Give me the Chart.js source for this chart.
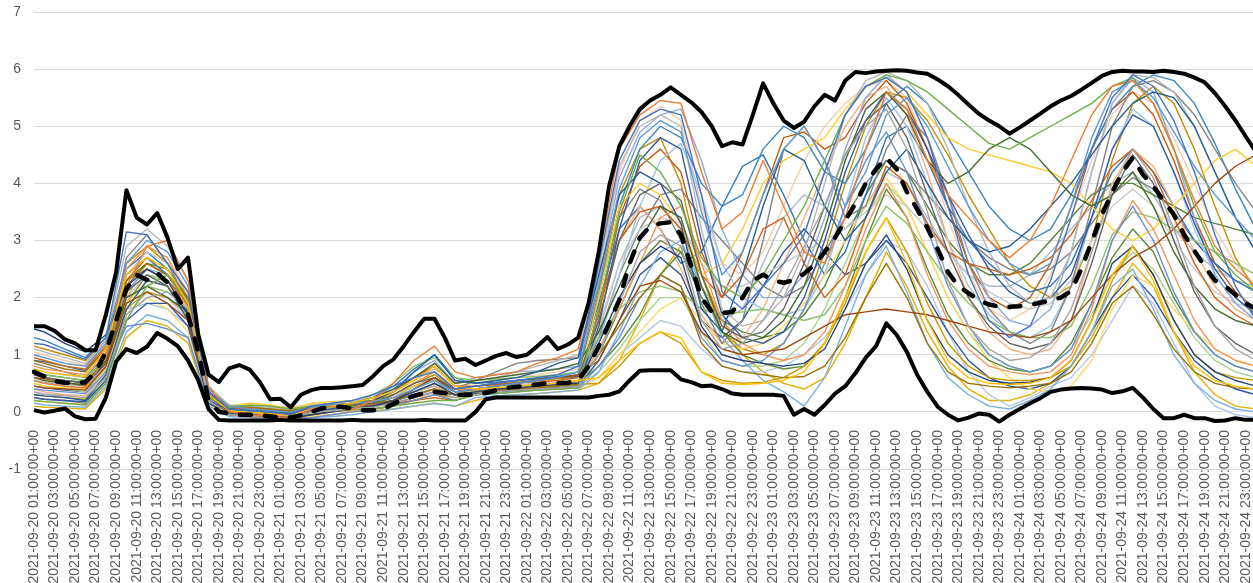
<!DOCTYPE html>
<html>
<head>
<meta charset="utf-8">
<script src="https://cdn.jsdelivr.net/npm/chart.js@4/dist/chart.umd.min.js"></script>
<style>
  html, body { margin: 0; padding: 0; background: #ffffff; overflow: hidden; }
  #wrap { width: 1253px; height: 583px; overflow: hidden; position: relative; }
  canvas { display: block; }
</style>
</head>
<body>
<div id="wrap"><canvas id="chart" width="1256" height="583"></canvas></div>
<script>
// Hourly timeline: 2021-09-20 01:00 UTC onwards, 120 steps
const startHour = Date.UTC(2021, 8, 20, 1);
const hours = [];
for (let i = 0; i < 120; i++) {
  const iso = new Date(startHour + i * 3600e3).toISOString();
  hours.push(iso.slice(0, 10) + ' ' + iso.slice(11, 19) + '+00');
}

// Member runs are stored every second hour (01:00, 02:00, 04:00, ...)
const memberTimes = [hours[0]].concat(hours.filter((h, i) => i % 2 === 1));

// Envelope and mean, hourly
const maxValues = [
  1.50,1.50,1.42,1.27,1.20,1.08,1.08,1.70,2.45,3.88,3.40,3.28,3.48,3.05,2.50,2.70,1.35,0.65,0.52,0.76,
  0.82,0.74,0.52,0.22,0.23,0.08,0.30,0.38,0.42,0.42,0.43,0.45,0.47,0.62,0.80,0.92,1.15,1.40,1.63,1.63,
  1.30,0.90,0.93,0.82,0.90,0.98,1.03,0.96,1.00,1.15,1.31,1.10,1.18,1.30,1.90,2.80,3.95,4.65,5.00,5.30,
  5.45,5.55,5.68,5.55,5.42,5.25,5.00,4.65,4.72,4.68,5.20,5.75,5.40,5.10,4.97,5.08,5.35,5.55,5.45,5.80,
  5.95,5.93,5.96,5.97,5.98,5.97,5.94,5.92,5.82,5.70,5.55,5.38,5.22,5.10,5.00,4.87,4.98,5.10,5.22,5.35,
  5.45,5.53,5.64,5.76,5.88,5.95,5.97,5.96,5.96,5.95,5.97,5.95,5.92,5.85,5.77,5.58,5.35,5.10,4.82,4.55
];
const minValues = [
  0.03,-0.01,0.02,0.06,-0.08,-0.13,-0.12,0.25,0.88,1.10,1.03,1.14,1.38,1.28,1.15,0.90,0.55,0.05,-0.14,-0.15,
  -0.15,-0.15,-0.15,-0.15,-0.14,-0.15,-0.15,-0.15,-0.15,-0.15,-0.15,-0.14,-0.15,-0.15,-0.15,-0.15,-0.15,-0.15,-0.14,-0.15,
  -0.15,-0.15,-0.15,0.00,0.22,0.25,0.25,0.25,0.25,0.25,0.25,0.25,0.25,0.25,0.25,0.28,0.30,0.36,0.55,0.72,
  0.73,0.73,0.73,0.57,0.52,0.45,0.46,0.40,0.32,0.30,0.30,0.30,0.30,0.28,-0.05,0.05,-0.05,0.12,0.32,0.45,
  0.68,0.95,1.15,1.55,1.35,1.05,0.65,0.35,0.09,-0.05,-0.15,-0.10,-0.03,-0.05,-0.17,-0.05,0.05,0.15,0.24,0.35,
  0.39,0.41,0.42,0.41,0.39,0.33,0.36,0.42,0.25,0.05,-0.11,-0.11,-0.05,-0.11,-0.11,-0.16,-0.15,-0.11,-0.14,-0.14
];
const meanValues = [
  0.70,0.62,0.54,0.51,0.50,0.52,0.70,1.05,1.60,2.15,2.40,2.31,2.43,2.26,2.00,1.70,1.05,0.20,0.00,-0.03,
  -0.05,-0.05,-0.06,-0.08,-0.10,-0.10,-0.06,0.00,0.06,0.09,0.09,0.06,0.03,0.03,0.05,0.14,0.22,0.28,0.33,0.35,
  0.33,0.30,0.30,0.30,0.33,0.38,0.42,0.44,0.45,0.48,0.50,0.50,0.51,0.56,0.80,1.15,1.55,1.96,2.60,3.05,
  3.25,3.30,3.32,3.10,2.55,2.00,1.75,1.73,1.75,2.00,2.30,2.40,2.30,2.26,2.31,2.42,2.58,2.80,3.05,3.35,
  3.65,4.00,4.25,4.45,4.25,3.85,3.55,3.22,2.85,2.45,2.20,2.08,1.95,1.88,1.84,1.84,1.85,1.87,1.91,1.95,
  2.00,2.12,2.50,2.98,3.45,3.85,4.20,4.45,4.15,3.95,3.70,3.45,3.10,2.82,2.55,2.30,2.20,2.05,1.90,1.80
];

// Individual member runs (61 values each, on memberTimes)
const m01 = [1.20,1.18,1.05,0.92,1.30,3.15,3.10,2.60,2.10,0.35, 0.05,0.02,0.00,-0.05,0.10,0.15,0.20,0.30,0.45,0.60,0.70,0.40,0.45,0.50,0.55,0.60,0.65,0.80, 2.60,4.40,5.10,5.30,5.20,3.80,2.10,1.80,2.20,2.60,3.10,4.20,5.20,5.70,5.85,5.60,4.80,3.60,2.40,1.60,1.30,1.50,2.30,3.40,4.60,5.50,5.90,5.70,5.10,4.20,3.10,2.20,1.60];
const m02 = [0.55,0.50,0.45,0.42,0.95,2.20,2.90,3.00,2.30,0.45, 0.00,-0.05,-0.08,-0.10,0.05,0.10,0.05,0.20,0.50,0.90,1.15,0.70,0.60,0.65,0.70,0.85,0.95,1.10, 2.70,4.60,5.20,5.45,5.40,4.20,3.20,3.50,4.40,3.60,2.80,2.60,3.40,4.60,5.60,5.30,4.40,3.80,3.40,3.00,2.70,3.00,3.60,4.40,5.20,5.70,5.80,5.40,4.60,3.70,2.90,2.50,2.20];
const m03 = [0.35,0.30,0.28,0.25,0.60,1.70,2.00,2.10,1.80,0.20, -0.05,-0.08,-0.10,-0.12,0.00,0.02,0.05,0.08,0.15,0.25,0.35,0.25,0.30,0.35,0.38,0.40,0.42,0.45, 1.00,1.90,2.80,3.10,2.90,1.60,1.10,1.20,1.60,2.20,2.90,3.60,4.50,5.00,5.30,4.60,3.50,2.30,1.50,1.10,0.90,0.95,1.20,1.80,2.80,3.90,4.60,4.10,3.20,2.20,1.50,1.10,0.90];
const m04 = [0.75,0.70,0.65,0.62,1.10,2.40,2.70,2.50,1.90,0.30, 0.02,0.00,-0.03,-0.06,0.05,0.10,0.15,0.25,0.35,0.55,0.80,0.45,0.40,0.42,0.45,0.48,0.50,0.55, 0.60,0.90,1.20,1.40,1.30,0.70,0.50,0.48,0.50,0.55,0.70,1.20,2.00,2.80,3.40,2.60,1.60,0.90,0.60,0.50,0.48,0.50,0.60,0.90,1.60,2.40,2.90,2.30,1.40,0.80,0.55,0.45,0.40];
const m05 = [1.00,0.95,0.85,0.80,1.20,2.60,3.00,2.80,2.20,0.40, 0.10,0.05,0.02,0.00,0.08,0.12,0.15,0.18,0.25,0.40,0.55,0.35,0.40,0.45,0.50,0.55,0.60,0.70, 2.20,3.90,4.80,5.10,4.90,3.50,2.40,2.80,3.80,4.60,5.00,4.40,3.60,4.20,5.20,5.50,5.00,4.30,3.60,3.00,2.60,2.40,2.60,3.60,4.80,5.60,5.80,5.50,4.90,4.30,3.80,3.40,3.00];
const m06 = [0.20,0.18,0.15,0.12,0.50,1.60,2.20,2.40,1.90,0.25, 0.08,0.12,0.10,0.05,0.10,0.12,0.10,0.05,0.10,0.15,0.20,0.20,0.30,0.32,0.35,0.38,0.40,0.42, 1.80,3.50,4.50,4.20,3.60,2.70,2.20,2.00,2.40,3.00,3.60,4.40,5.20,5.70,5.90,5.80,5.60,5.30,5.00,4.70,4.60,4.80,5.00,5.20,5.40,5.70,5.85,5.40,4.60,3.60,2.80,2.40,2.10];
const m07 = [1.45,1.40,1.20,1.05,1.35,2.20,2.50,2.30,1.70,0.30, 0.00,-0.05,-0.08,-0.10,-0.05,0.00,0.05,0.10,0.20,0.35,0.50,0.30,0.35,0.40,0.42,0.45,0.48,0.50, 1.20,2.00,2.60,2.90,2.70,1.50,1.00,0.90,0.85,0.80,0.85,1.10,1.80,2.60,3.10,2.50,1.60,1.00,0.70,0.55,0.50,0.52,0.60,0.90,1.60,2.60,2.90,2.40,1.60,1.00,0.70,0.55,0.45];
const m08 = [0.45,0.42,0.40,0.38,0.80,1.90,2.10,1.90,1.60,0.20, -0.05,-0.08,-0.10,-0.12,-0.05,0.00,0.05,0.10,0.20,0.40,0.60,0.35,0.40,0.45,0.50,0.55,0.60,0.65, 0.90,1.60,2.20,2.30,2.10,1.40,1.10,1.00,1.05,1.10,1.30,1.50,1.70,1.75,1.80,1.75,1.70,1.60,1.50,1.40,1.35,1.30,1.40,1.60,2.00,2.40,2.70,2.90,3.20,3.60,4.00,4.30,4.50];
const m09 = [0.65,0.60,0.55,0.50,0.90,2.10,2.40,2.20,1.70,0.25, 0.05,0.02,0.00,-0.02,0.05,0.10,0.12,0.15,0.30,0.50,0.60,0.40,0.45,0.50,0.55,0.58,0.60,0.62, 1.60,3.00,3.80,4.00,3.70,2.40,1.50,1.30,1.40,1.80,2.60,3.60,4.50,5.10,5.40,4.80,3.80,2.80,2.00,1.50,1.20,1.10,1.20,1.60,2.60,3.80,4.50,4.00,3.00,2.10,1.50,1.20,1.00];
const m10 = [0.90,0.85,0.75,0.70,1.10,2.30,2.60,2.40,2.00,0.35, 0.10,0.08,0.05,0.02,0.08,0.10,0.12,0.15,0.20,0.30,0.40,0.30,0.35,0.38,0.40,0.42,0.45,0.48, 1.00,1.50,2.00,2.40,2.20,1.20,0.80,0.70,0.65,0.60,0.62,0.80,1.30,2.00,2.60,2.00,1.20,0.70,0.50,0.45,0.42,0.45,0.50,0.70,1.20,1.90,2.20,1.70,1.10,0.70,0.50,0.42,0.40];
const m11 = [0.30,0.28,0.25,0.20,0.65,1.80,2.30,2.20,1.60,0.15, -0.02,-0.05,-0.08,-0.10,0.00,0.05,0.10,0.20,0.35,0.70,1.00,0.55,0.50,0.55,0.60,0.70,0.85,0.95, 2.40,3.80,4.20,4.00,3.30,1.80,1.40,2.40,3.60,4.60,4.40,3.60,3.00,3.40,4.20,4.60,4.00,3.40,3.00,2.80,2.90,3.20,3.60,4.00,4.50,5.00,5.40,5.60,5.50,5.00,4.20,3.40,2.80];
const m12 = [0.60,0.55,0.50,0.48,0.85,2.00,2.20,2.00,1.75,0.30, 0.05,0.02,0.00,-0.03,0.05,0.10,0.15,0.25,0.40,0.60,0.85,0.50,0.55,0.60,0.65,0.70,0.75,0.85, 1.40,2.20,3.00,3.60,3.40,2.20,1.40,1.20,1.30,1.60,2.20,3.20,4.40,5.30,5.60,5.20,4.40,4.00,4.20,4.60,4.80,4.60,4.20,3.80,3.60,3.80,4.20,3.60,2.80,2.20,1.80,1.60,1.50];
const m13 = [0.40,0.38,0.35,0.32,0.70,1.50,1.55,1.45,1.30,0.15, -0.05,-0.08,-0.10,-0.12,-0.10,-0.05,0.00,0.05,0.10,0.20,0.30,0.20,0.30,0.32,0.35,0.38,0.40,0.42, 0.80,1.30,2.00,2.40,2.20,1.30,0.90,0.80,0.90,1.20,1.80,2.60,3.60,4.40,4.90,4.20,3.20,2.20,1.50,1.00,0.80,0.70,0.80,1.10,1.90,3.00,3.60,3.00,2.10,1.40,1.00,0.80,0.70];
const m14 = [0.80,0.75,0.70,0.65,1.05,2.50,2.90,2.70,2.00,0.30, 0.00,-0.03,-0.05,-0.08,0.00,0.05,0.10,0.15,0.30,0.50,0.70,0.40,0.38,0.40,0.42,0.45,0.48,0.50, 1.10,1.80,2.60,3.40,3.60,2.60,1.60,1.20,1.00,0.90,1.00,1.40,2.20,3.20,4.00,3.40,2.40,1.60,1.10,0.80,0.70,0.65,0.70,1.00,1.80,3.00,3.70,3.20,2.40,1.60,1.10,0.90,0.80];
const m15 = [1.10,1.05,0.95,0.85,1.25,2.90,3.20,2.90,2.30,0.45, 0.12,0.10,0.08,0.05,0.10,0.15,0.20,0.25,0.35,0.55,0.75,0.50,0.55,0.60,0.70,0.80,0.90,1.00, 2.50,4.30,5.00,5.20,5.00,3.20,1.80,1.50,1.60,2.00,2.80,4.00,5.20,5.80,5.95,5.80,5.40,4.60,3.60,2.80,2.20,1.90,2.00,2.80,4.20,5.40,5.90,5.85,5.60,5.00,4.20,3.40,2.80];
const m16 = [0.50,0.45,0.42,0.40,0.75,1.90,2.30,2.20,1.80,0.25, 0.10,0.15,0.12,0.05,0.15,0.18,0.20,0.25,0.30,0.45,0.55,0.35,0.40,0.42,0.45,0.48,0.50,0.55, 2.00,3.60,4.00,3.80,3.30,2.40,2.60,3.20,4.00,4.40,4.60,4.80,5.30,5.70,5.85,5.60,5.20,4.80,4.60,4.50,4.40,4.30,4.20,4.00,3.60,3.20,3.00,3.20,3.60,4.00,4.40,4.60,4.30];
const m17 = [0.15,0.12,0.10,0.08,0.45,1.40,1.70,1.60,1.30,0.10, -0.08,-0.10,-0.12,-0.12,-0.10,-0.08,-0.05,0.00,0.05,0.10,0.15,0.10,0.25,0.28,0.30,0.32,0.35,0.38, 0.70,1.40,2.20,2.80,3.00,2.20,1.30,0.90,0.55,0.35,0.10,0.60,1.50,2.40,2.90,2.10,1.20,0.60,0.30,0.10,0.05,0.20,0.40,0.80,1.40,2.20,2.50,1.80,1.00,0.50,0.20,0.05,0.00];
const m18 = [0.70,0.65,0.60,0.55,0.95,2.00,2.20,2.10,1.80,0.30, 0.00,-0.02,-0.05,-0.08,0.00,0.08,0.15,0.30,0.50,0.80,0.95,0.60,0.55,0.58,0.60,0.62,0.65,0.70, 1.30,1.80,2.10,2.20,2.10,1.80,1.70,1.75,1.80,1.70,1.60,1.70,2.20,3.00,3.60,3.30,2.80,2.30,1.90,1.60,1.40,1.30,1.30,1.50,2.20,3.10,3.50,3.40,3.20,3.00,2.80,2.60,2.40];
const m19 = [0.25,0.22,0.20,0.18,0.55,1.60,1.90,1.90,1.50,0.20, 0.02,0.00,-0.02,-0.05,0.02,0.05,0.08,0.10,0.15,0.25,0.35,0.30,0.32,0.35,0.38,0.40,0.42,0.45, 1.50,3.20,4.40,4.80,4.60,3.00,1.70,1.30,1.20,1.40,2.00,3.00,4.20,5.10,5.60,5.30,4.60,3.80,3.10,2.50,2.10,1.90,2.00,2.40,3.40,4.60,5.20,5.00,4.20,3.30,2.50,2.00,1.70];
const m20 = [0.95,0.90,0.80,0.75,1.15,2.30,2.50,2.30,1.90,0.35, 0.08,0.05,0.02,0.00,0.05,0.08,0.10,0.12,0.15,0.20,0.25,0.20,0.30,0.35,0.38,0.40,0.42,0.45, 1.80,3.00,3.50,3.60,3.20,2.40,2.00,2.40,3.20,3.40,2.60,2.00,2.40,3.40,4.30,4.00,3.30,2.80,2.60,2.50,2.40,2.50,2.70,3.10,3.70,4.30,4.60,4.20,3.40,2.60,2.00,1.70,1.50];
const m21 = [0.85,0.80,0.70,0.60,1.00,2.70,3.10,2.60,1.90,0.30, 0.05,0.03,0.00,-0.03,0.02,0.05,0.08,0.10,0.20,0.40,0.60,0.40,0.55,0.70,0.85,0.90,0.92,0.95, 2.20,3.40,3.90,3.70,3.00,1.90,1.20,1.60,3.00,4.60,5.00,4.40,3.40,3.60,4.60,5.20,4.80,3.80,2.60,1.80,1.40,1.20,1.40,2.20,3.60,5.00,5.70,5.80,5.60,5.20,4.60,4.00,3.50];
const m22 = [0.30,0.28,0.25,0.22,0.60,1.80,2.10,2.00,1.70,0.20, -0.03,-0.05,-0.08,-0.10,-0.05,0.00,0.03,0.05,0.10,0.20,0.30,0.25,0.35,0.38,0.40,0.42,0.45,0.48, 0.50,0.80,1.20,1.40,1.20,0.70,0.55,0.50,0.52,0.60,0.80,1.20,1.90,2.80,3.40,2.80,1.90,1.20,0.80,0.60,0.55,0.55,0.60,0.80,1.40,2.30,2.90,2.40,1.60,1.00,0.70,0.60,0.55];
const m23 = [1.30,1.25,1.10,0.95,1.30,2.40,2.70,2.40,1.90,0.35, 0.08,0.05,0.03,0.00,0.05,0.08,0.10,0.12,0.20,0.35,0.50,0.35,0.40,0.45,0.50,0.55,0.60,0.65, 2.00,3.60,4.60,5.00,4.80,4.00,3.60,3.80,4.60,5.00,4.80,4.20,4.00,4.60,5.40,5.70,5.40,4.80,4.20,3.60,3.20,3.00,3.20,3.80,4.60,5.30,5.70,5.90,5.80,5.40,4.70,3.90,3.20];
const m24 = [0.65,0.60,0.55,0.52,0.90,2.20,2.60,2.50,2.00,0.30, 0.05,0.02,0.00,-0.02,0.05,0.10,0.15,0.20,0.30,0.45,0.55,0.35,0.38,0.40,0.42,0.45,0.48,0.50, 0.80,1.20,1.70,2.40,2.80,2.20,1.40,1.00,0.85,0.75,0.80,1.20,2.00,3.00,3.90,3.40,2.50,1.70,1.20,0.90,0.75,0.70,0.80,1.20,1.90,2.70,3.20,2.80,2.00,1.40,1.00,0.80,0.70];
const m25 = [0.55,0.50,0.45,0.40,0.85,2.10,2.50,2.40,1.90,0.25, 0.00,-0.02,-0.05,-0.08,0.00,0.05,0.10,0.20,0.40,0.70,0.90,0.50,0.60,0.65,0.70,0.72,0.75,0.80, 2.30,4.10,4.90,5.20,5.30,4.40,3.20,2.40,2.00,2.00,2.40,3.40,4.60,5.50,5.90,5.60,4.80,3.80,2.80,2.00,1.60,1.50,1.80,2.80,4.20,5.40,5.85,5.60,4.60,3.40,2.40,1.90,1.60];
const m26 = [0.40,0.35,0.30,0.28,0.70,2.00,2.60,2.40,1.80,0.25, 0.05,0.08,0.10,0.08,0.12,0.15,0.18,0.20,0.25,0.35,0.45,0.30,0.35,0.38,0.40,0.42,0.45,0.48, 1.60,3.00,3.60,3.20,2.50,1.70,1.20,1.30,1.80,2.60,3.40,4.20,5.00,5.50,5.70,5.20,4.20,3.00,2.00,1.40,1.10,1.00,1.10,1.60,2.80,4.00,4.60,4.30,3.60,2.80,2.20,1.80,1.60];
const m27 = [1.00,0.95,0.85,0.80,1.15,2.40,2.80,2.60,2.00,0.30, 0.02,0.00,-0.02,-0.05,0.00,0.05,0.08,0.10,0.20,0.30,0.40,0.30,0.40,0.45,0.48,0.50,0.52,0.55, 1.50,2.60,3.20,3.40,3.30,2.60,2.20,2.20,2.40,2.60,2.80,3.00,3.20,3.50,3.80,3.60,3.20,2.80,2.40,2.10,1.90,1.80,1.90,2.30,3.00,3.60,3.90,3.60,3.00,2.50,2.10,1.90,1.80];
const m28 = [0.20,0.18,0.15,0.12,0.50,1.70,2.00,1.80,1.40,0.15, -0.05,-0.08,-0.10,-0.12,-0.08,-0.05,0.00,0.05,0.10,0.20,0.35,0.25,0.30,0.32,0.35,0.38,0.40,0.42, 0.60,1.00,1.40,1.80,2.00,1.60,1.20,1.10,1.20,1.50,1.90,2.40,3.00,3.60,4.10,3.60,2.80,2.00,1.40,0.90,0.60,0.40,0.35,0.45,0.90,1.80,2.40,2.20,1.80,1.40,1.10,0.90,0.80];
const m29 = [0.75,0.70,0.65,0.60,1.00,1.80,1.90,1.80,1.50,0.25, 0.03,0.00,-0.03,-0.05,0.00,0.05,0.08,0.10,0.20,0.40,0.55,0.35,0.40,0.42,0.45,0.48,0.50,0.55, 1.20,2.40,3.60,4.40,4.70,3.80,2.60,2.00,1.80,1.70,1.80,2.40,3.60,4.80,5.50,5.00,4.00,3.00,2.20,1.70,1.40,1.30,1.50,2.20,3.40,4.60,5.30,5.00,4.20,3.20,2.40,1.90,1.60];
const m30 = [0.50,0.45,0.40,0.35,0.75,2.00,2.40,2.30,1.80,0.25, 0.00,-0.03,-0.05,-0.08,-0.02,0.03,0.06,0.10,0.20,0.35,0.50,0.30,0.32,0.35,0.38,0.40,0.42,0.45, 0.70,1.10,1.60,2.00,2.00,1.40,0.90,0.80,0.80,0.90,1.20,1.80,2.60,3.40,4.00,3.60,2.80,2.00,1.40,1.00,0.80,0.70,0.80,1.10,1.70,2.40,2.80,2.50,1.90,1.30,0.90,0.70,0.60];
const m31 = [0.90,0.88,0.80,0.72,1.10,2.50,2.80,2.50,1.95,0.30, 0.05,0.03,0.00,-0.02,0.05,0.10,0.15,0.25,0.45,0.75,1.00,0.60,0.50,0.52,0.55,0.58,0.62,0.70, 1.90,3.20,3.60,3.20,2.60,2.80,3.60,4.30,4.50,3.80,3.00,2.40,2.80,3.80,4.80,5.00,4.40,3.60,3.00,2.60,2.30,2.10,2.20,2.60,3.40,4.20,4.60,4.20,3.60,3.00,2.60,2.30,2.10];
const m32 = [0.60,0.58,0.52,0.45,0.90,2.30,2.70,2.40,1.85,0.25, 0.00,-0.02,-0.05,-0.08,0.00,0.05,0.10,0.20,0.35,0.60,0.80,0.45,0.45,0.48,0.50,0.52,0.55,0.60, 1.70,3.40,4.30,4.60,4.20,2.80,2.00,2.80,3.80,4.80,4.90,4.60,4.80,5.40,5.80,5.40,4.60,3.60,2.60,2.00,1.80,2.00,2.60,3.60,4.60,5.30,5.60,5.20,4.40,3.40,2.60,2.10,1.80];
const m33 = [0.25,0.22,0.20,0.15,0.55,1.90,2.40,2.30,1.70,0.20, -0.02,-0.05,-0.08,-0.10,-0.02,0.02,0.05,0.10,0.20,0.40,0.60,0.35,0.38,0.40,0.42,0.45,0.48,0.50, 1.30,2.40,3.20,3.80,3.90,3.40,3.00,2.60,2.20,2.00,2.20,2.80,3.40,4.00,4.40,4.20,3.80,3.40,3.00,2.70,2.50,2.40,2.50,2.80,3.30,3.80,4.10,3.90,3.50,3.00,2.60,2.30,2.10];
const m34 = [1.15,1.10,1.00,0.90,1.25,2.60,2.90,2.60,2.10,0.40, 0.10,0.08,0.05,0.02,0.08,0.12,0.15,0.20,0.30,0.50,0.65,0.40,0.45,0.48,0.52,0.55,0.58,0.62, 2.10,3.80,4.60,4.80,4.00,2.40,1.40,1.10,1.00,1.20,1.80,2.80,4.00,5.00,5.60,5.50,5.10,4.50,3.80,3.20,2.60,2.20,2.00,2.20,3.00,4.40,5.40,5.70,5.40,4.60,3.60,2.70,2.10];
const m35 = [0.45,0.42,0.38,0.35,0.78,2.10,2.50,2.30,1.75,0.25, 0.02,0.00,-0.02,-0.05,0.02,0.05,0.08,0.12,0.18,0.30,0.40,0.30,0.32,0.35,0.38,0.40,0.42,0.45, 0.90,1.60,2.40,2.70,2.40,1.60,1.30,1.60,2.20,2.80,3.20,2.80,2.40,2.60,3.00,2.60,2.00,1.40,0.90,0.60,0.45,0.40,0.50,0.80,1.40,2.00,2.40,2.00,1.40,0.90,0.60,0.40,0.30];
const m36 = [0.70,0.65,0.60,0.55,0.95,2.30,2.60,2.40,1.90,0.30, 0.05,0.02,0.00,-0.02,0.05,0.10,0.12,0.15,0.25,0.35,0.45,0.30,0.35,0.40,0.42,0.45,0.48,0.52, 1.00,1.80,2.60,3.00,2.80,2.00,1.60,1.40,1.30,1.40,1.70,2.20,3.00,3.80,4.40,4.20,3.60,3.00,2.60,2.40,2.40,2.60,3.00,3.40,3.80,4.00,4.00,3.80,3.60,3.40,3.30,3.20,3.10];
const m37 = [0.35,0.32,0.30,0.28,0.65,1.70,2.10,2.00,1.60,0.18, -0.05,-0.08,-0.10,-0.12,-0.05,0.00,0.05,0.10,0.15,0.25,0.40,0.30,0.30,0.32,0.35,0.38,0.40,0.42, 0.60,1.00,1.30,1.60,1.50,1.10,0.80,0.70,0.70,0.80,1.00,1.30,1.80,2.40,3.00,2.80,2.20,1.40,0.70,0.30,0.10,0.25,0.45,0.60,1.00,1.60,2.20,1.90,1.20,0.50,0.10,-0.05,-0.10];
const m38 = [1.05,1.00,0.90,0.82,1.20,2.50,2.90,2.70,2.10,0.35, 0.08,0.05,0.02,0.00,0.05,0.10,0.12,0.18,0.30,0.50,0.70,0.45,0.50,0.55,0.60,0.65,0.70,0.75, 2.40,4.20,5.10,5.35,5.10,3.60,2.60,2.40,2.80,3.60,4.40,5.00,5.40,5.70,5.80,5.50,4.60,3.40,2.40,1.80,1.60,1.80,2.40,3.40,4.40,5.20,5.60,5.40,4.80,4.00,3.20,2.60,2.20];
const m39 = [0.55,0.52,0.48,0.45,0.85,2.20,2.50,2.30,1.80,0.28, 0.02,0.00,-0.03,-0.05,0.00,0.05,0.08,0.12,0.25,0.45,0.60,0.40,0.40,0.42,0.45,0.48,0.50,0.55, 1.40,2.60,3.40,3.60,3.20,2.20,1.60,1.80,2.60,3.40,3.80,3.60,3.20,3.60,4.20,4.00,3.40,2.80,2.40,2.20,2.20,2.40,2.80,3.20,3.60,4.00,4.20,3.80,3.20,2.80,2.50,2.30,2.20];
const m40 = [0.10,0.08,0.07,0.05,0.40,1.30,1.60,1.50,1.20,0.10, -0.05,-0.08,-0.10,-0.12,-0.08,-0.05,0.00,0.02,0.05,0.10,0.15,0.10,0.20,0.28,0.30,0.32,0.35,0.38, 0.50,0.90,1.60,2.40,2.90,2.40,1.60,1.00,0.70,0.50,0.40,0.60,1.20,2.00,2.80,2.20,1.40,0.80,0.40,0.20,0.20,0.30,0.50,0.80,1.30,2.00,2.60,2.20,1.40,0.70,0.30,0.10,0.05];

const members = [m01,m02,m03,m04,m05,m06,m07,m08,m09,m10,m11,m12,m13,m14,m15,m16,m17,m18,m19,m20,
                 m21,m22,m23,m24,m25,m26,m27,m28,m29,m30,m31,m32,m33,m34,m35,m36,m37,m38,m39,m40];

const memberColors = [
  '#4472C4','#ED7D31','#A5A5A5','#FFC000','#5B9BD5','#70AD47',
  '#264478','#9E480E','#636363','#997300','#255E91','#43682B',
  '#698ED0','#F1975A','#B7B7B7','#FFCD33','#7CAFDD','#8CC168',
  '#335AA1','#D26012','#848484','#CC9A00','#3C86C1','#5A8A39',
  '#8FAADC','#F4B183','#C9C9C9','#FFD966','#9DC3E6','#A9D18E',
  '#2E75B6','#C55A11','#7F7F7F','#BF9000','#2F5597','#538135',
  '#B4C7E7','#F8CBAD','#ADB9CA','#E2B000'
];

const axisFont = { family: "'Liberation Sans', Arial, sans-serif", size: 14 };
const axisColor = '#595959';

const datasets = [
  { label: 'Max', data: maxValues, borderColor: '#000000', borderWidth: 4, order: 0 },
  { label: 'Min', data: minValues, borderColor: '#000000', borderWidth: 4, order: 0 },
  { label: 'Mean', data: meanValues, borderColor: '#000000', borderWidth: 4.5,
    borderDash: [11, 14], borderCapStyle: 'round', order: 0 }
];
members.forEach((vals, k) => {
  datasets.push({
    label: 'Member ' + (k + 1),
    data: vals.map((v, j) => ({ x: memberTimes[j], y: v })),
    borderColor: memberColors[k % memberColors.length],
    borderWidth: 1.4,
    order: 1
  });
});

new Chart(document.getElementById('chart'), {
  type: 'line',
  data: { labels: hours, datasets: datasets },
  options: {
    responsive: false,
    animation: false,
    devicePixelRatio: 1,
    layout: { padding: { left: 8.5, top: 12, right: 0, bottom: 114 } },
    elements: {
      point: { radius: 0, hoverRadius: 0 },
      line: { tension: 0, borderJoinStyle: 'round', fill: false }
    },
    plugins: { legend: { display: false }, tooltip: { enabled: false } },
    scales: {
      x: {
        type: 'category',
        position: { y: 0 },
        offset: false,
        grid: { display: false },
        border: { display: false },
        afterFit: (scale) => { scale.paddingLeft = 0; scale.paddingRight = 0; },
        ticks: {
          autoSkip: false,
          minRotation: 90,
          maxRotation: 90,
          padding: 10,
          color: axisColor,
          font: axisFont,
          callback: (value, index) => (index % 2 === 0 ? hours[index] : null)
        }
      },
      y: {
        min: -1,
        max: 7,
        grid: { color: '#d9d9d9', lineWidth: 1, drawTicks: false },
        border: { display: false },
        // axis band: widest label plus one gap to the plot
        afterFit: (scale) => { scale.width = 25.5; scale.paddingTop = 0; scale.paddingBottom = 0; },
        ticks: { stepSize: 1, padding: 13, color: axisColor, font: axisFont }
      }
    }
  }
});
</script>
</body>
</html>
